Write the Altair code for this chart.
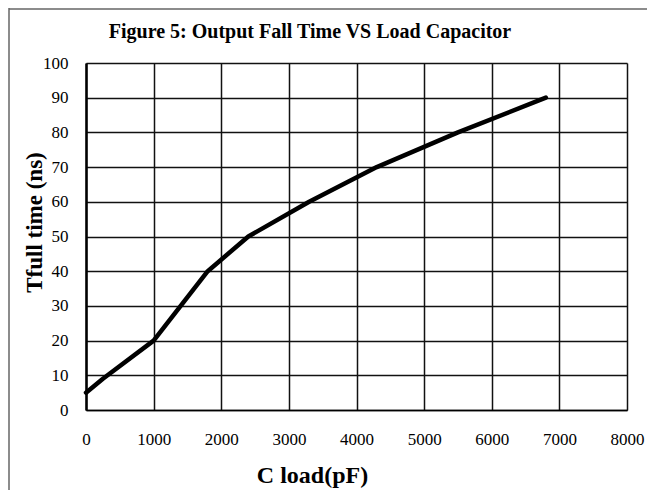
import altair as alt
import pandas as pd

# Data
c_load_pf = [0, 250, 1000, 1800, 2400, 3300, 4300, 5500, 6800]
fall_time_ns = [5, 9, 20, 40, 50, 60, 70, 80, 90]
x_ticks = [0, 1000, 2000, 3000, 4000, 5000, 6000, 7000, 8000]
y_ticks = [0, 10, 20, 30, 40, 50, 60, 70, 80, 90, 100]
title_text = "Figure 5: Output Fall Time VS Load Capacitor"
x_title = "C load(pF)"
y_title = "Tfull time (ns)"

df = pd.DataFrame({"c": c_load_pf, "t": fall_time_ns})

FONT = "Liberation Serif"
W, H = 541, 347

x_enc = alt.X(
    "c:Q",
    scale=alt.Scale(domain=[0, 8000], nice=False),
    axis=alt.Axis(
        values=x_ticks, format="d", title=x_title, ticks=False, labelPadding=21,
        labelFont=FONT, labelFontSize=17, labelColor="#000",
        titleFont=FONT, titleFontSize=24, titleFontWeight="bold", titleColor="#000",
        titleX=226, titleY=72, titleBaseline="alphabetic", titleAlign="center",
        grid=True, gridColor="#111", gridWidth=1.5, gridOpacity=1,
        domainColor="#000", domainWidth=1.5, labelFlush=False,
    ),
)
y_enc = alt.Y(
    "t:Q",
    scale=alt.Scale(domain=[0, 100], nice=False),
    axis=alt.Axis(
        values=y_ticks, title=y_title, ticks=False, labelPadding=18,
        labelFont=FONT, labelFontSize=17, labelColor="#000",
        titleFont=FONT, titleFontSize=23, titleFontWeight="bold", titleColor="#000",
        titleX=-52, titleY=159, titleBaseline="middle", titleAlign="center", titleAngle=-90,
        grid=True, gridColor="#111", gridWidth=1.5, gridOpacity=1,
        domainColor="#000", domainWidth=2.5, labelFlush=False,
    ),
)

line = alt.Chart(df).mark_line(color="#000", strokeWidth=4.5, strokeCap="round", strokeJoin="round").encode(
    x=x_enc, y=y_enc
)

title_df = pd.DataFrame({"label": [title_text]})
title = alt.Chart(title_df).mark_text(
    font=FONT, fontSize=20, fontWeight="bold", color="#000", align="center", baseline="alphabetic"
).encode(text="label:N", x=alt.value(224), y=alt.value(-25))

border_left = alt.Chart(title_df).mark_rule(color="#666", strokeWidth=1.5).encode(
    x=alt.value(-77), y=alt.value(-55), y2=alt.value(430)
)
border_top = alt.Chart(title_df).mark_rule(color="#666", strokeWidth=1.5).encode(
    x=alt.value(-77), x2=alt.value(570), y=alt.value(-54)
)

chart = alt.layer(border_left, border_top, line, title).properties(
    width=W, height=H,
    autosize=alt.AutoSizeParams(type="none"),
    padding={"left": 78, "top": 55, "right": 20, "bottom": 80},
).configure_view(stroke="#000", strokeWidth=1.5).configure(background="white")

chart.save("out.html", embed_options={"renderer": "svg", "actions": False})
